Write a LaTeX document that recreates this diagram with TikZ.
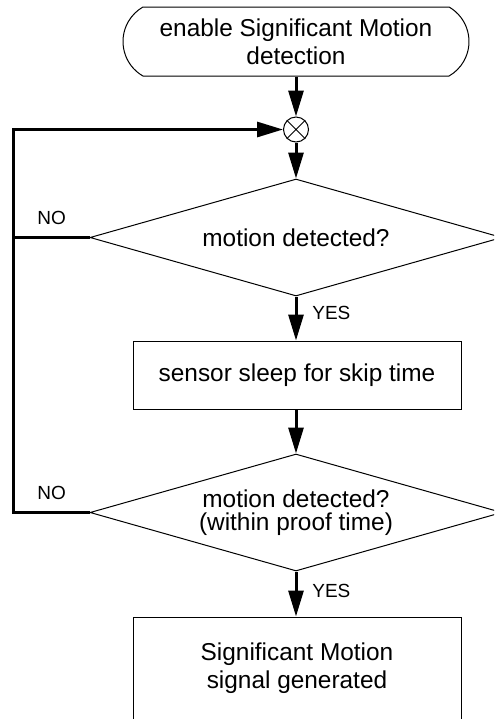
\documentclass[tikz,border=0pt]{standalone}
\usepackage{fontspec}
\setmainfont{Liberation Sans}
\usetikzlibrary{arrows.meta,shapes.geometric,shapes.misc}
\tikzset{
  thinbox/.style={draw=black, line width=0.5pt, inner sep=0pt, align=center, font=\fontsize{12.2pt}{14pt}\selectfont},
  termbox/.style={thinbox, rounded rectangle, rounded rectangle arc length=120, minimum width=173pt, minimum height=34.5pt},
  procbox/.style={thinbox, rectangle, minimum width=164pt},
  decbox/.style={thinbox, diamond, aspect=3.5, minimum width=206pt, minimum height=58.5pt},
  joinc/.style={draw=black, line width=0.5pt, circle, inner sep=0pt, minimum size=12.5pt},
  flow/.style={line width=1.5pt, -{Triangle[length=13pt,width=7.5pt]}},
  plainflow/.style={line width=1.5pt},
  lbl/.style={anchor=west, inner sep=0pt, font=\fontsize{9.5pt}{11pt}\selectfont}
}
\begin{document}
\begin{tikzpicture}[x=0.5pt,y=-0.5pt]
\useasboundingbox (0,0) rectangle (494,719);
\clip (0,0) rectangle (494,719);
\fill[white] (0,0) rectangle (494,719);
\node[termbox] (start) at (296,41.5) {enable Significant Motion\\detection};
\node[joinc] (circ) at (296,129.5) {};
\draw[line width=0.5pt] (circ.north west) -- (circ.south east) (circ.north east) -- (circ.south west);
\node[decbox] (d1) at (296,237.5) {motion detected?};
\node[procbox, minimum height=34pt] (b1) at (297,375) {sensor sleep for skip time};
\node[decbox, font=\fontsize{12.2pt}{11.7pt}\selectfont] (d2) at (296,512.5) {motion detected?\\(within proof time)};
\node[procbox, minimum height=51.5pt] (b2) at (297,668.5) {Significant Motion\\signal generated};
\coordinate (lp) at (13,512.5);
\node[lbl] (no1) at (37,218) {NO};
\node[lbl] (no2) at (37,493) {NO};
\node[lbl] (yes1) at (312,313) {YES};
\node[lbl] (yes2) at (312,591) {YES};
\draw[flow] (start.south) -- (circ.north);
\draw[flow] (circ.south) -- (d1.north);
\draw[flow] (d1.south) -- (d1.south |- b1.north);
\draw[flow] (b1.south -| d2.north) -- (d2.north);
\draw[flow] (d2.south) -- (d2.south |- b2.north);
\draw[flow] (d2.west) -- (lp) -- (lp |- circ.west) -- (circ.west);
\draw[plainflow] (d1.west) -- (d1.west -| lp);
\end{tikzpicture}
\end{document}
